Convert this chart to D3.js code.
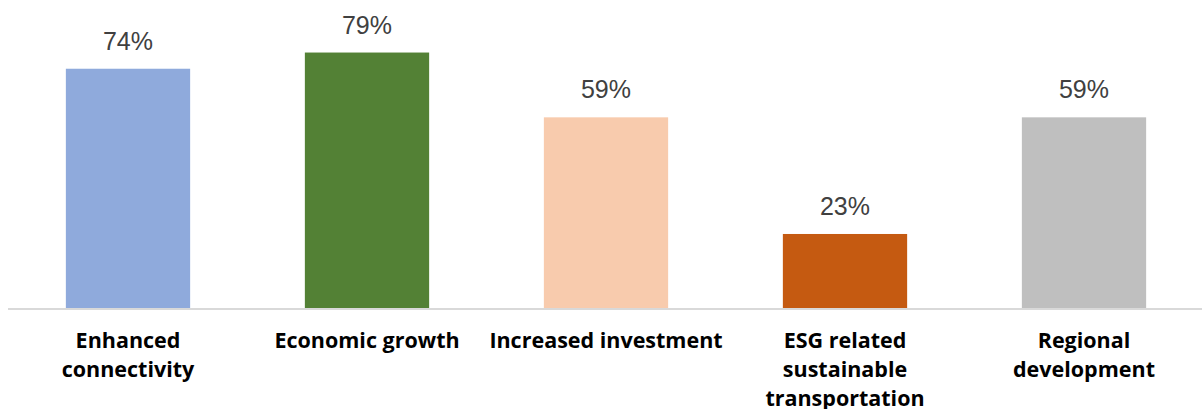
<!DOCTYPE html>
<html>
<head>
<meta charset="utf-8">
<script src="https://cdn.jsdelivr.net/npm/d3@7"></script>
<style>
  html, body { margin: 0; padding: 0; background: #ffffff; }
  svg { display: block; }
</style>
</head>
<body>
<svg id="chart" width="1202" height="409"></svg>
<script>
// Share of respondents citing each expected benefit
const categories = [
  "Enhanced\nconnectivity",
  "Economic growth",
  "Increased investment",
  "ESG related\nsustainable\ntransportation",
  "Regional\ndevelopment"
];
const values = [74, 79, 59, 23, 59];
const barColors = ["#8FAADC", "#538135", "#F8CBAD", "#C55A11", "#BFBFBF"];

const svg = d3.select("#chart");
const baseY = 308.5;

const x = d3.scaleBand()
  .domain(categories)
  .range([8.5, 1203.5])
  .paddingInner(0.48)
  .paddingOuter(0.24);

const y = d3.scaleLinear()
  .domain([0, 100])
  .range([baseY, baseY - 324]);

// Bars
svg.append("g")
  .selectAll("rect")
  .data(values)
  .join("rect")
  .attr("x", (d, i) => x(categories[i]))
  .attr("y", d => y(d))
  .attr("width", x.bandwidth())
  .attr("height", d => y(0) - y(d))
  .attr("fill", (d, i) => barColors[i]);

// Value labels above bars
svg.append("g")
  .selectAll("text")
  .data(values)
  .join("text")
  .attr("x", (d, i) => x(categories[i]) + x.bandwidth() / 2)
  .attr("y", d => y(d) - 19)
  .attr("text-anchor", "middle")
  .attr("font-family", "Liberation Sans, Arial, sans-serif")
  .attr("font-size", 25)
  .attr("fill", "#404040")
  .text(d => d + "%");

// Category axis
const axis = svg.append("g")
  .attr("transform", `translate(0,${baseY})`)
  .call(d3.axisBottom(x).tickSize(0).tickFormat(""));
axis.select(".domain")
  .attr("d", "M8,0.5H1202")
  .attr("stroke", "#D9D9D9")
  .attr("stroke-width", 2);

// Multi-line category labels
axis.selectAll(".tick").each(function(d) {
  const t = d3.select(this).append("text")
    .attr("text-anchor", "middle")
    .attr("font-family", "Open Sans, sans-serif")
    .attr("font-weight", 700)
    .attr("font-size", 21.5)
    .attr("fill", "#000000");
  d.split("\n").forEach((line, k) => {
    t.append("tspan")
      .attr("x", 0)
      .attr("y", 39.5 + k * 28.8)
      .text(line);
  });
});
</script>
</body>
</html>
